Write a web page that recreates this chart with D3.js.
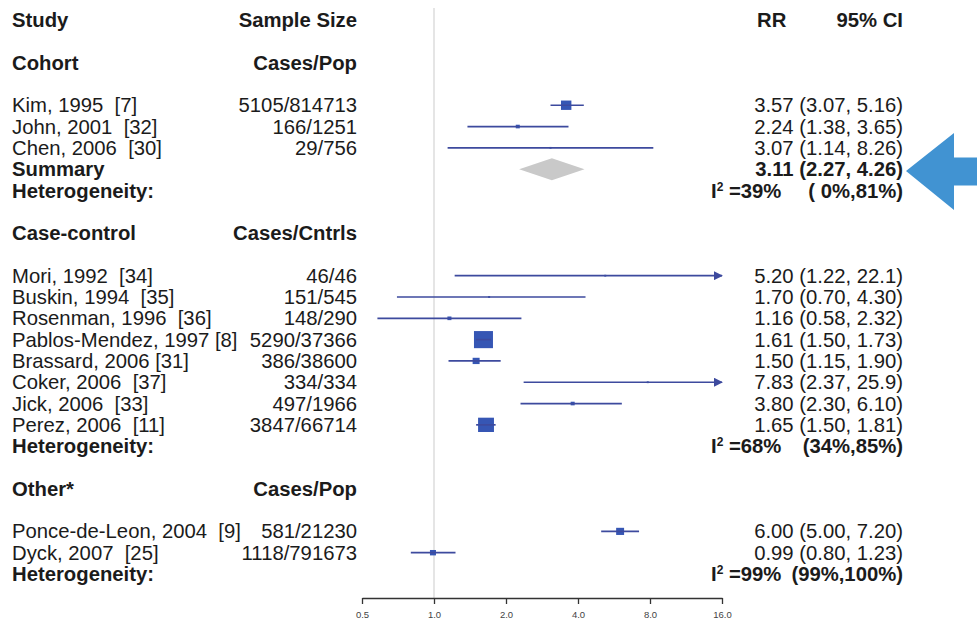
<!DOCTYPE html>
<html>
<head>
<meta charset="utf-8">
<script src="https://cdn.jsdelivr.net/npm/d3@7"></script>
<style>
  html, body { margin: 0; padding: 0; background: #fff; }
  svg { display: block; font-family: "Liberation Sans", Arial, Helvetica, sans-serif; }
  text { white-space: pre; }
</style>
</head>
<body>
<svg id="chart" width="977" height="626"></svg>
<script>
// ---------- data ----------
const studies = ["Kim, 1995  [7]", "John, 2001  [32]", "Chen, 2006  [30]",
  "Mori, 1992  [34]", "Buskin, 1994  [35]", "Rosenman, 1996  [36]", "Pablos-Mendez, 1997 [8]",
  "Brassard, 2006 [31]", "Coker, 2006  [37]", "Jick, 2006  [33]", "Perez, 2006  [11]",
  "Ponce-de-Leon, 2004  [9]", "Dyck, 2007  [25]"];
const studyRows = [4, 5, 6, 12, 13, 14, 15, 16, 17, 18, 19, 24, 25];
const sampleSizes = ["5105/814713", "166/1251", "29/756",
  "46/46", "151/545", "148/290", "5290/37366", "386/38600", "334/334", "497/1966", "3847/66714",
  "581/21230", "1118/791673"];
const rr = [3.57, 2.24, 3.07, 5.20, 1.70, 1.16, 1.61, 1.50, 7.83, 3.80, 1.65, 6.00, 0.99];
const ciLow = [3.07, 1.38, 1.14, 1.22, 0.70, 0.58, 1.50, 1.15, 2.37, 2.30, 1.50, 5.00, 0.80];
const ciHigh = [4.23, 3.65, 8.26, 22.1, 4.30, 2.32, 1.73, 1.90, 25.9, 6.10, 1.81, 7.20, 1.23];
const weights = [12, 1.8, 0.45, 0.45, 0.45, 1.8, 40, 5.4, 0.45, 1.8, 28, 7, 4];
const ciLabels = ["3.57 (3.07, 5.16)", "2.24 (1.38, 3.65)", "3.07 (1.14, 8.26)",
  "5.20 (1.22, 22.1)", "1.70 (0.70, 4.30)", "1.16 (0.58, 2.32)", "1.61 (1.50, 1.73)",
  "1.50 (1.15, 1.90)", "7.83 (2.37, 25.9)", "3.80 (2.30, 6.10)", "1.65 (1.50, 1.81)",
  "6.00 (5.00, 7.20)", "0.99 (0.80, 1.23)"];

const groupNames = ["Cohort", "Case-control", "Other*"];
const groupSizeHeaders = ["Cases/Pop", "Cases/Cntrls", "Cases/Pop"];
const groupRows = [2, 10, 22];

const summaryRow = 7;
const summaryRR = 3.11, summaryLow = 2.27, summaryHigh = 4.26;
const summaryLabel = "3.11 (2.27, 4.26)";

const hetRows = [8, 20, 26];
const hetI2 = ["39%", "68%", "99%"];
const hetCI = ["( 0%,81%)", "(34%,85%)", "(99%,100%)"];

const headers = ["Study", "Sample Size", "RR", "95% CI"];
const tickValues = [0.5, 1, 2, 4, 8, 16];
const tickLabels = ["0.5", "1.0", "2.0", "4.0", "8.0", "16.0"];

// ---------- layout ----------
const svg = d3.select("#chart");
const x = d3.scaleLog().base(2).domain([0.5, 16]).range([362, 722]);
const y = d3.scaleLinear().domain([0, 26]).range([20, 574]);
const boxSize = d3.scaleSqrt().domain([0, 40]).range([0, 19]);
const txt = "#1b1b1b";
const lineCol = "#3d4a9e";
const boxCol = "#3656b4";
const fs = 20.3;
const colStudy = 12, colSize = 357, colRR = 757, colCI = 903, colI2 = 711;

// reference line at 1
svg.append("line").attr("x1", x(1)).attr("x2", x(1)).attr("y1", 8).attr("y2", 598)
  .attr("stroke", "#dcdcdc").attr("stroke-width", 1.5);

// headers
const hdr = svg.append("g").attr("font-weight", "bold").attr("font-size", fs).attr("fill", txt);
hdr.append("text").attr("x", colStudy).attr("y", y(0)).attr("dy", "0.35em").text(headers[0]);
hdr.append("text").attr("x", colSize).attr("y", y(0)).attr("dy", "0.35em").attr("text-anchor", "end").text(headers[1]);
hdr.append("text").attr("x", colRR).attr("y", y(0)).attr("dy", "0.35em").text(headers[2]);
hdr.append("text").attr("x", colCI).attr("y", y(0)).attr("dy", "0.35em").attr("text-anchor", "end").text(headers[3]);

groupRows.forEach((r, i) => {
  hdr.append("text").attr("x", colStudy).attr("y", y(r)).attr("dy", "0.35em").text(groupNames[i]);
  hdr.append("text").attr("x", colSize).attr("y", y(r)).attr("dy", "0.35em").attr("text-anchor", "end").text(groupSizeHeaders[i]);
});

// study text
const rowsG = svg.append("g").attr("font-size", fs).attr("fill", txt);
studies.forEach((s, i) => {
  const yy = y(studyRows[i]);
  rowsG.append("text").attr("x", colStudy).attr("y", yy).attr("dy", "0.35em").text(s);
  rowsG.append("text").attr("x", colSize).attr("y", yy).attr("dy", "0.35em").attr("text-anchor", "end").text(sampleSizes[i]);
  rowsG.append("text").attr("x", colCI).attr("y", yy).attr("dy", "0.35em").attr("text-anchor", "end").text(ciLabels[i]);
});

// summary text
hdr.append("text").attr("x", colStudy).attr("y", y(summaryRow)).attr("dy", "0.35em").text("Summary");
hdr.append("text").attr("x", colCI).attr("y", y(summaryRow)).attr("dy", "0.35em").attr("text-anchor", "end").text(summaryLabel);

// heterogeneity
hetRows.forEach((r, i) => {
  const yy = y(r) + fs * 0.35;
  hdr.append("text").attr("x", colStudy).attr("y", yy).text("Heterogeneity:");
  const t = hdr.append("text").attr("x", colI2).attr("y", yy);
  t.append("tspan").text("I");
  t.append("tspan").attr("font-size", 12).attr("y", yy - 7).text("2");
  t.append("tspan").attr("y", yy).text(" =" + hetI2[i]);
  hdr.append("text").attr("x", colCI).attr("y", yy).attr("text-anchor", "end").text(hetCI[i]);
});

// arrow marker
const defs = svg.append("defs");
defs.append("marker").attr("id", "arr").attr("viewBox", "0 0 10 10").attr("refX", 9).attr("refY", 5)
  .attr("markerWidth", 5.5).attr("markerHeight", 5.5).attr("orient", "auto")
  .append("path").attr("d", "M0,0 L10,5 L0,10 Z").attr("fill", lineCol);

const dom = x.domain();
const plotG = svg.append("g");
// boxes
studies.forEach((s, i) => {
  const yy = y(studyRows[i]);
  const sz = Math.max(2, boxSize(weights[i]));
  plotG.append("rect").attr("x", x(rr[i]) - sz / 2).attr("y", yy - sz * 0.45)
    .attr("width", sz).attr("height", sz * 0.9).attr("fill", boxCol);
});
// CI lines
studies.forEach((s, i) => {
  const yy = y(studyRows[i]);
  const lo = Math.max(ciLow[i], dom[0]);
  const hiClip = ciHigh[i] > dom[1];
  const hi = Math.min(ciHigh[i], dom[1]);
  const l = plotG.append("line").attr("x1", x(lo)).attr("x2", x(hi)).attr("y1", yy).attr("y2", yy)
    .attr("stroke", lineCol).attr("stroke-width", 1.7);
  if (hiClip) l.attr("marker-end", "url(#arr)");
});

// summary diamond
const sy = y(summaryRow);
plotG.append("path")
  .attr("d", `M${x(summaryLow)},${sy} L${x(summaryRR)},${sy - 11} L${x(summaryHigh)},${sy} L${x(summaryRR)},${sy + 11} Z`)
  .attr("fill", "#c9c9c9");

// axis
const axisG = svg.append("g").attr("transform", "translate(0,598)")
  .call(d3.axisBottom(x).tickValues(tickValues).tickFormat((d, i) => tickLabels[i]).tickSize(6).tickSizeOuter(0));
axisG.select(".domain").attr("stroke", "#333").attr("stroke-width", 1.3);
axisG.selectAll(".tick line").attr("stroke", "#333").attr("stroke-width", 1.3);
axisG.selectAll(".tick text").attr("font-size", 9.5).attr("fill", "#444").attr("dy", "1.15em")
  .attr("font-family", "'Liberation Sans', Arial, sans-serif");

// highlight arrow
svg.append("path")
  .attr("d", "M906,171 L954,133 L954,157.5 L977,157.5 L977,185.5 L954,185.5 L954,210 Z")
  .attr("fill", "#4193d2");
</script>
</body>
</html>
